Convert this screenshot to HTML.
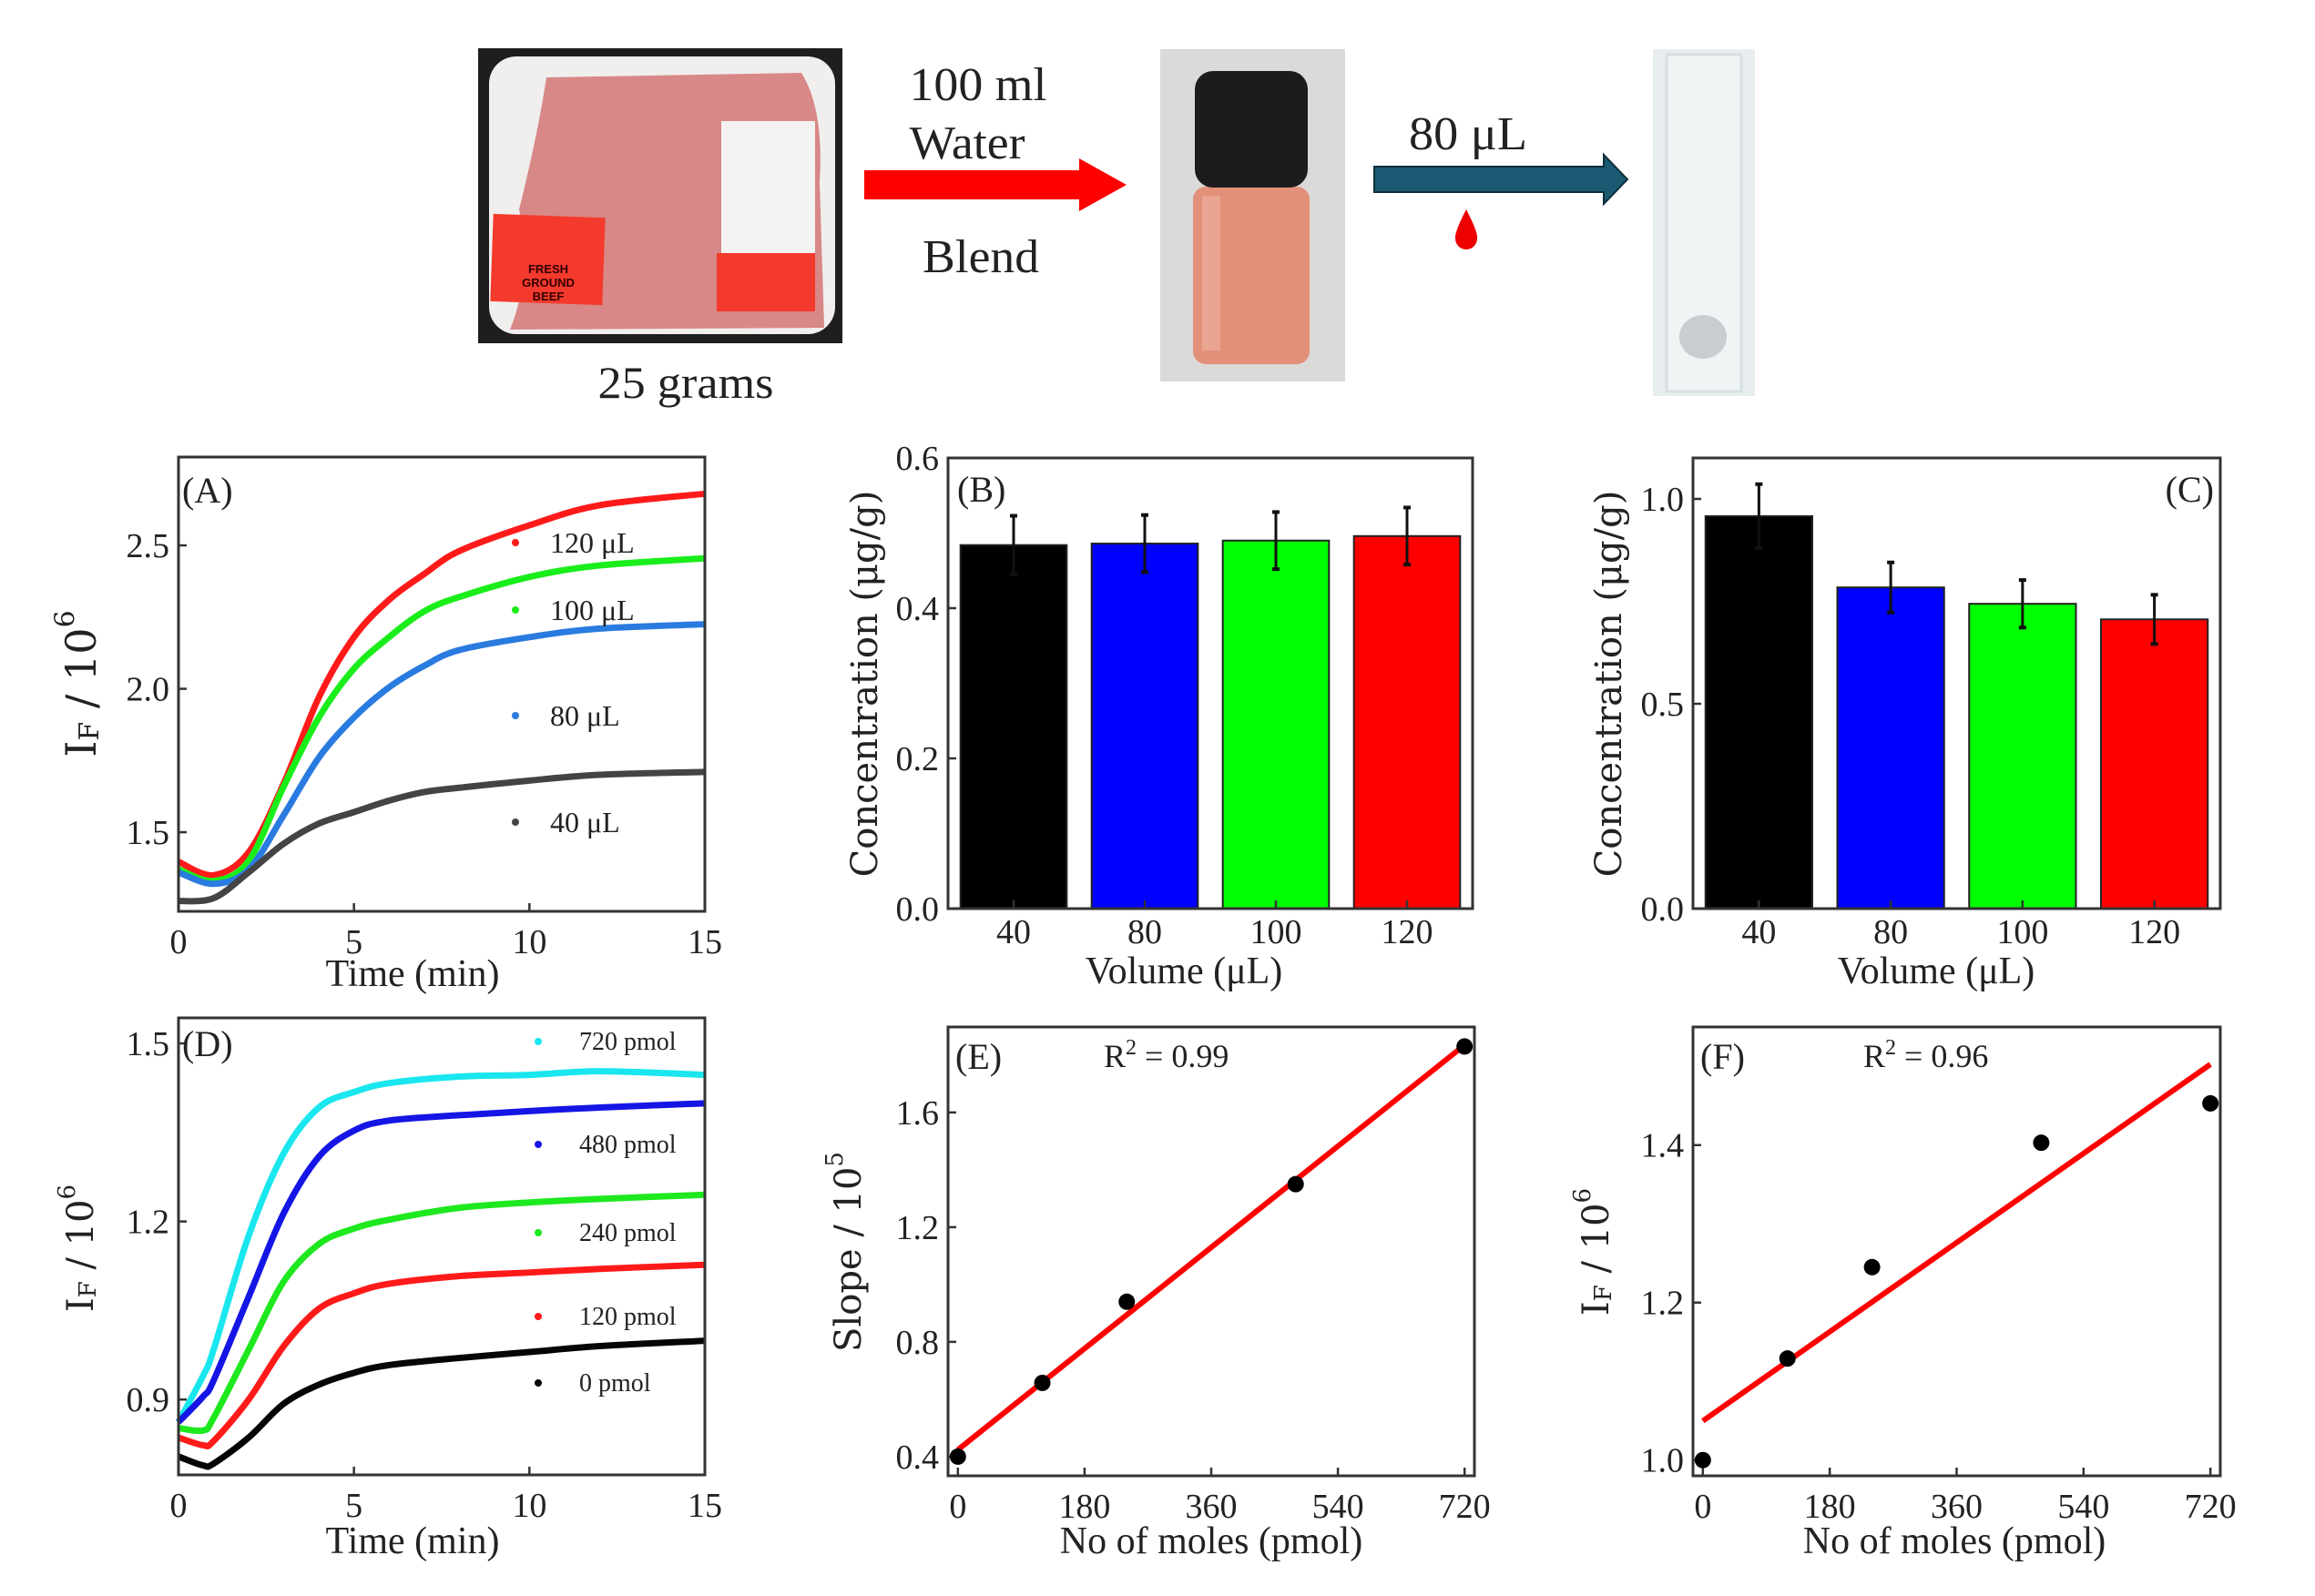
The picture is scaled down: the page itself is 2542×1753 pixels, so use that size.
<!DOCTYPE html>
<html><head><meta charset="utf-8"><title>Beef sample analysis figure</title>
<style>
html,body{margin:0;padding:0;background:#fff;}
svg{display:block;}
text{font-family:"Liberation Serif",serif;fill:#222;}
.yt{font-family:"DejaVu Serif","Liberation Serif",serif;}
</style></head>
<body>
<svg id="fig" xmlns="http://www.w3.org/2000/svg" width="2542" height="1753" viewBox="0 0 2542 1753">
<rect x="0" y="0" width="2542" height="1753" fill="#fff"/>
<!-- Top schematic -->
<g>
  <g>
    <rect x="525" y="53" width="400" height="324" fill="#1e1e1e"/>
    <rect x="537" y="62" width="380" height="305" rx="30" fill="#f1eeee"/>
    <path d="M600 85 L880 80 Q905 120 900 200 L905 360 L560 362 Q585 300 570 230 Q590 150 600 85 Z" fill="#d88886"/>
    <rect x="540" y="237" width="123" height="96" fill="#f43a2c" transform="rotate(2 600 285)"/>
    <text x="602" y="300" font-size="13" font-weight="bold" text-anchor="middle" style="font-family:'Liberation Sans',sans-serif;fill:#300">FRESH</text>
    <text x="602" y="315" font-size="13" font-weight="bold" text-anchor="middle" style="font-family:'Liberation Sans',sans-serif;fill:#300">GROUND</text>
    <text x="602" y="330" font-size="13" font-weight="bold" text-anchor="middle" style="font-family:'Liberation Sans',sans-serif;fill:#300">BEEF</text>
    <rect x="792" y="133" width="103" height="145" fill="#f4f2f0"/>
    <rect x="787" y="278" width="108" height="64" fill="#f43a2c"/>
  </g>
  <text x="753" y="437" font-size="50" text-anchor="middle" textLength="193" lengthAdjust="spacingAndGlyphs">25 grams</text>
  <text x="1074" y="110" font-size="52" text-anchor="middle" textLength="151" lengthAdjust="spacingAndGlyphs">100 ml</text>
  <text x="1062" y="174" font-size="52" text-anchor="middle" textLength="127" lengthAdjust="spacingAndGlyphs">Water</text>
  <text x="1077" y="299" font-size="52" text-anchor="middle" textLength="128" lengthAdjust="spacingAndGlyphs">Blend</text>
  <polygon points="949,187 1185,187 1185,174 1237,203 1185,232 1185,219 949,219" fill="#ff0000"/>
  <g>
    <rect x="1274" y="54" width="203" height="365" fill="#dcdad8"/>
    <rect x="1310" y="205" width="128" height="195" rx="14" fill="#e3907a"/>
    <rect x="1320" y="215" width="20" height="170" fill="#eaa592"/>
    <rect x="1312" y="78" width="124" height="128" rx="20" fill="#1c1c1e"/>
  </g>
  <text x="1612" y="164" font-size="52" text-anchor="middle" textLength="130" lengthAdjust="spacingAndGlyphs">80 μL</text>
  <polygon points="1509,183 1761,183 1761,170 1787,197 1761,224 1761,211 1509,211" fill="#1b5a72" stroke="#0e2f3c" stroke-width="2"/>
  <path d="M1610 230 Q1597 255 1598 262 A12 12 0 0 0 1622 262 Q1623 255 1610 230 Z" fill="#ee0000"/>
  <g>
    <rect x="1815" y="54" width="112" height="381" fill="#e8eef0"/>
    <rect x="1830" y="60" width="82" height="370" fill="#f0f4f5" stroke="#d6dfe2" stroke-width="3"/>
    <ellipse cx="1870" cy="370" rx="26" ry="24" fill="#c9cdd2"/>
  </g>
</g>
<g id="charts"></g>
</svg>
<script>
// ---------- DATA ----------
const timeA = [0, 1, 2, 3, 4, 5, 6, 7, 8, 10, 12, 15];
const a120 = [1.397, 1.35, 1.43, 1.67, 1.97, 2.18, 2.31, 2.40, 2.48, 2.57, 2.64, 2.68];
const a100 = [1.37, 1.33, 1.40, 1.66, 1.90, 2.07, 2.18, 2.27, 2.32, 2.39, 2.43, 2.455];
const a80 = [1.36, 1.32, 1.37, 1.56, 1.76, 1.90, 2.005, 2.08, 2.135, 2.18, 2.21, 2.225];
const a40 = [1.26, 1.27, 1.36, 1.46, 1.53, 1.57, 1.61, 1.64, 1.655, 1.68, 1.70, 1.71];
const legendA = ["120 μL", "100 μL", "80 μL", "40 μL"];

const timeD = [0, 0.7, 1, 2, 3, 4, 5, 6, 8, 10, 12, 15];
const d720 = [0.862, 0.94, 0.984, 1.176, 1.315, 1.392, 1.418, 1.433, 1.444, 1.447, 1.453, 1.447];
const d480 = [0.862, 0.905, 0.932, 1.073, 1.214, 1.309, 1.353, 1.37, 1.379, 1.386, 1.392, 1.399];
const d240 = [0.852, 0.848, 0.869, 0.984, 1.099, 1.162, 1.188, 1.203, 1.223, 1.232, 1.238, 1.245];
const d120 = [0.836, 0.823, 0.830, 0.90, 0.99, 1.053, 1.079, 1.095, 1.108, 1.114, 1.12, 1.127];
const d0 = [0.804, 0.789, 0.792, 0.836, 0.893, 0.925, 0.945, 0.958, 0.97, 0.98, 0.99, 0.999];
const legendD = ["720 pmol", "480 pmol", "240 pmol", "120 pmol", "0 pmol"];

const volumes = ["40", "80", "100", "120"];
const concB = [0.484, 0.486, 0.490, 0.496];
const errB = [0.039, 0.038, 0.038, 0.038];
const concC = [0.958, 0.784, 0.744, 0.706];
const errC = [0.078, 0.061, 0.058, 0.06];

const molesE = [0, 120, 240, 480, 720];
const slopeE = [0.40, 0.657, 0.94, 1.35, 1.83];
const molesF = [0, 120, 240, 480, 720];
const intensityF = [1.0, 1.129, 1.245, 1.403, 1.453];

const ticksTime = [0, 5, 10, 15];
const ticksA = [1.5, 2.0, 2.5];
const ticksD = [0.9, 1.2, 1.5];
const ticksB = [0.0, 0.2, 0.4, 0.6];
const ticksC = [0.0, 0.5, 1.0];
const ticksMoles = [0, 180, 360, 540, 720];
const ticksE = [0.4, 0.8, 1.2, 1.6];
const ticksF = [1.0, 1.2, 1.4];

// ---------- HELPERS ----------
const NS = "http://www.w3.org/2000/svg";
const root = document.getElementById("charts");
function mk(tag, attrs, name, parent) {
  const el = document.createElementNS(NS, tag);
  for (const k in attrs) el.setAttribute(k, attrs[k]);
  
  
  (parent || root).appendChild(el);
  return el;
}
function txt(x, y, s, size, anchor, name, parent, extra) {
  const t = mk("text", Object.assign({x: x, y: y, "font-size": size, "text-anchor": anchor || "middle"}, extra || {}), name, parent);
  t.textContent = s;
  return t;
}
function linScale(d0, d1, r0, r1) { return v => r0 + (v - d0) / (d1 - d0) * (r1 - r0); }

function panel(cfg) {
  const g = mk("g", {}, cfg.name, root);
  const sx = linScale(cfg.xmin, cfg.xmax, cfg.x0, cfg.x1);
  const sy = linScale(cfg.ymin, cfg.ymax, cfg.y1, cfg.y0);
  // y ticks
  cfg.yticks.forEach(v => {
    const y = sy(v);
    mk("line", {x1: cfg.x0, x2: cfg.x0 + 9, y1: y, y2: y, stroke: "#333", "stroke-width": 2.5}, "y-tick", g);
    txt(cfg.x0 - 10, y + 13, v.toFixed(1), 38, "end", "y-tick-label", g);
  });
  if (cfg.xticks) {
    cfg.xticks.forEach(v => {
      const x = sx(v);
      mk("line", {x1: x, x2: x, y1: cfg.y1, y2: cfg.y1 - 9, stroke: "#333", "stroke-width": 2.5}, "x-tick", g);
      txt(x, cfg.y1 + 46, String(v), 38, "middle", "x-tick-label", g);
    });
  }
  return {g: g, sx: sx, sy: sy};
}
function frame(cfg, g) {
  mk("rect", {x: cfg.x0, y: cfg.y0, width: cfg.x1 - cfg.x0, height: cfg.y1 - cfg.y0, fill: "none", stroke: "#333", "stroke-width": 3}, "plot-frame", g);
}
function smoothPath(xs, ys, sx, sy) {
  const p = xs.map((x, i) => [sx(x), sy(ys[i])]);
  let d = "M" + p[0][0] + " " + p[0][1];
  for (let i = 0; i < p.length - 1; i++) {
    const p0 = p[Math.max(0, i - 1)], p1 = p[i], p2 = p[i + 1], p3 = p[Math.min(p.length - 1, i + 2)];
    const c1x = p1[0] + (p2[0] - p0[0]) / 6, c1y = p1[1] + (p2[1] - p0[1]) / 6;
    const c2x = p2[0] - (p3[0] - p1[0]) / 6, c2y = p2[1] - (p3[1] - p1[1]) / 6;
    d += " C" + c1x + " " + c1y + " " + c2x + " " + c2y + " " + p2[0] + " " + p2[1];
  }
  return d;
}
function yTitle(x, y, main, sub, sup, size, name) {
  const t = mk("text", {x: x, y: y, "font-size": size, "text-anchor": "middle", "dominant-baseline": "central", transform: "rotate(-90 " + x + " " + y + ")", class: "yt"}, name, root);
  const a = document.createElementNS(NS, "tspan"); a.textContent = main; t.appendChild(a);
  if (sub) { const s = document.createElementNS(NS, "tspan"); s.setAttribute("font-size", size * 0.65); s.setAttribute("dy", size * 0.2); s.textContent = sub; t.appendChild(s);
    const r = document.createElementNS(NS, "tspan"); r.setAttribute("dy", -size * 0.2); r.textContent = " / 10"; t.appendChild(r); }
  const p = document.createElementNS(NS, "tspan"); p.setAttribute("font-size", size * 0.65); p.setAttribute("dy", -size * 0.38); p.textContent = sup; t.appendChild(p);
  return t;
}

// ---------- PANEL A ----------
(function () {
  const cfg = {name: "panel-a", x0: 196, x1: 774, y0: 502, y1: 1001, xmin: 0, xmax: 15, ymin: 1.224, ymax: 2.808, xticks: ticksTime, yticks: ticksA};
  const P = panel(cfg);
  const series = [a120, a100, a80, a40];
  const colors = ["#ff1a1a", "#1aee1a", "#2a7be0", "#444444"];
  const names = ["curve-120ul", "curve-100ul", "curve-80ul", "curve-40ul"];
  series.forEach((s, i) => {
    mk("path", {d: smoothPath(timeA, s, P.sx, P.sy), fill: "none", stroke: colors[i], "stroke-width": 7, "stroke-linejoin": "round"}, names[i], P.g);
  });
  const ly = [596, 670, 786, 903];
  legendA.forEach((l, i) => {
    mk("circle", {cx: 566, cy: ly[i], r: 4, fill: colors[i]}, "legend-marker", P.g);
    txt(604, ly[i] + 11, l, 32, "start", "legend-label", P.g);
  });
  frame(cfg, P.g);
  txt(200, 552, "(A)", 40, "start", "panel-label-a", P.g);
  txt(453, 1083, "Time (min)", 42, "middle", "x-axis-title-a", P.g);
  yTitle(89, 751, "I", "F", "6", 46, "y-axis-title-a");
})();

// ---------- PANEL D ----------
(function () {
  const cfg = {name: "panel-d", x0: 196, x1: 774, y0: 1118, y1: 1620, xmin: 0, xmax: 15, ymin: 0.773, ymax: 1.543, xticks: ticksTime, yticks: ticksD};
  const P = panel(cfg);
  const series = [d720, d480, d240, d120, d0];
  const colors = ["#19e6ee", "#1515e6", "#1ee81e", "#ff1a1a", "#050505"];
  const names = ["curve-720pmol", "curve-480pmol", "curve-240pmol", "curve-120pmol", "curve-0pmol"];
  series.forEach((s, i) => {
    mk("path", {d: smoothPath(timeD, s, P.sx, P.sy), fill: "none", stroke: colors[i], "stroke-width": 7, "stroke-linejoin": "round"}, names[i], P.g);
  });
  const ly = [1144, 1257, 1354, 1446, 1519];
  legendD.forEach((l, i) => {
    mk("circle", {cx: 591, cy: ly[i], r: 4, fill: colors[i]}, "legend-marker", P.g);
    txt(636, ly[i] + 9, l, 28, "start", "legend-label", P.g);
  });
  frame(cfg, P.g);
  txt(200, 1160, "(D)", 40, "start", "panel-label-d", P.g);
  txt(453, 1706, "Time (min)", 42, "middle", "x-axis-title-d", P.g);
  yTitle(89, 1371, "I", "F", "6", 40, "y-axis-title-d");
})();

// ---------- BAR PANELS ----------
function barPanel(name, x0, x1, ymax, ticks, vals, errs, label, labelX, labelAnchor, titleX, xTitleX) {
  const cfg = {name: name, x0: x0, x1: x1, y0: 503, y1: 998, xmin: 0, xmax: 1, ymin: 0, ymax: ymax, yticks: ticks};
  const P = panel(cfg);
  const band = (x1 - x0) / volumes.length;
  const colors = ["#000000", "#0000ff", "#00ff00", "#ff0000"];
  vals.forEach((v, i) => {
    const cx = x0 + band * (i + 0.5);
    const w = band * 0.81;
    const y = P.sy(v);
    const bar = mk("rect", {x: cx - w / 2, y: y, width: w, height: cfg.y1 - y, fill: colors[i], stroke: "#222", "stroke-width": 2}, "bar-" + volumes[i] + "ul", P.g);
    const yt = P.sy(v + errs[i]), yb = P.sy(v - errs[i]);
    mk("line", {x1: cx, x2: cx, y1: yt, y2: yb, stroke: "#111", "stroke-width": 3}, "error-bar", P.g);
    mk("line", {x1: cx - 4, x2: cx + 4, y1: yt, y2: yt, stroke: "#111", "stroke-width": 4}, "error-cap", P.g);
    mk("line", {x1: cx - 4, x2: cx + 4, y1: yb, y2: yb, stroke: "#111", "stroke-width": 4}, "error-cap", P.g);
    mk("line", {x1: cx, x2: cx, y1: cfg.y1, y2: cfg.y1 - 9, stroke: "#333", "stroke-width": 2.5}, "x-tick", P.g);
    txt(cx, 1036, volumes[i], 38, "middle", "x-tick-label", P.g);
  });
  frame(cfg, P.g);
  txt(labelX, 551, label, 40, labelAnchor, "panel-label", P.g);
  txt(xTitleX, 1080, "Volume (μL)", 42, "middle", "x-axis-title", P.g);
  mk("text", {x: titleX, y: 751, "font-size": 40, "text-anchor": "middle", "dominant-baseline": "central", transform: "rotate(-90 " + titleX + " 751)", class: "yt"}, "y-axis-title", root).textContent = "Concentration (μg/g)";
}
barPanel("panel-b", 1041, 1617, 0.6, ticksB, concB, errB, "(B)", 1051, "start", 950, 1300);
barPanel("panel-c", 1859, 2438, 1.1, ticksC, concC, errC, "(C)", 2431, "end", 1767, 2126);

// ---------- SCATTER PANELS ----------
function regress(xs, ys) {
  const n = xs.length;
  const mx = xs.reduce((a, b) => a + b, 0) / n, my = ys.reduce((a, b) => a + b, 0) / n;
  let sxy = 0, sxx = 0;
  xs.forEach((x, i) => { sxy += (x - mx) * (ys[i] - my); sxx += (x - mx) * (x - mx); });
  const m = sxy / sxx;
  return [m, my - m * mx];
}
function scatterPanel(name, x0, x1, ymin, ymax, ticks, xs, ys, label, r2, r2x, xTitleX) {
  const cfg = {name: name, x0: x0, x1: x1, y0: 1128, y1: 1621, xmin: -14, xmax: 734, ymin: ymin, ymax: ymax, xticks: ticksMoles, yticks: ticks};
  const P = panel(cfg);
  const fit = regress(xs, ys);
  mk("line", {x1: P.sx(0), y1: P.sy(fit[1]), x2: P.sx(720), y2: P.sy(fit[1] + fit[0] * 720), stroke: "#ff0000", "stroke-width": 6}, "fit-line", P.g);
  xs.forEach((x, i) => {
    mk("circle", {cx: P.sx(x), cy: P.sy(ys[i]), r: 9, fill: "#000"}, "data-point", P.g);
  });
  frame(cfg, P.g);
  txt(x0 + 8, 1174, label, 40, "start", "panel-label", P.g);
  const t = txt(r2x, 1172, "R", 36, "start", "r-squared-label", P.g);
  const s = document.createElementNS(NS, "tspan"); s.setAttribute("font-size", 24); s.setAttribute("dy", -14); s.textContent = "2"; t.appendChild(s);
  const e = document.createElementNS(NS, "tspan"); e.setAttribute("dy", 14); e.textContent = " = " + r2; t.appendChild(e);
  txt(xTitleX, 1706, "No of moles (pmol)", 42, "middle", "x-axis-title", P.g);
  return P;
}
scatterPanel("panel-e", 1041, 1619, 0.333, 1.898, ticksE, molesE, slopeE, "(E)", "0.99", 1212, 1330);
scatterPanel("panel-f", 1859, 2438, 0.98, 1.55, ticksF, molesF, intensityF, "(F)", "0.96", 2046, 2146);
yTitle(932, 1375, "Slope / 10", null, "5", 40, "y-axis-title-e");
yTitle(1753, 1375, "I", "F", "6", 40, "y-axis-title-f");
</script>
</body></html>
